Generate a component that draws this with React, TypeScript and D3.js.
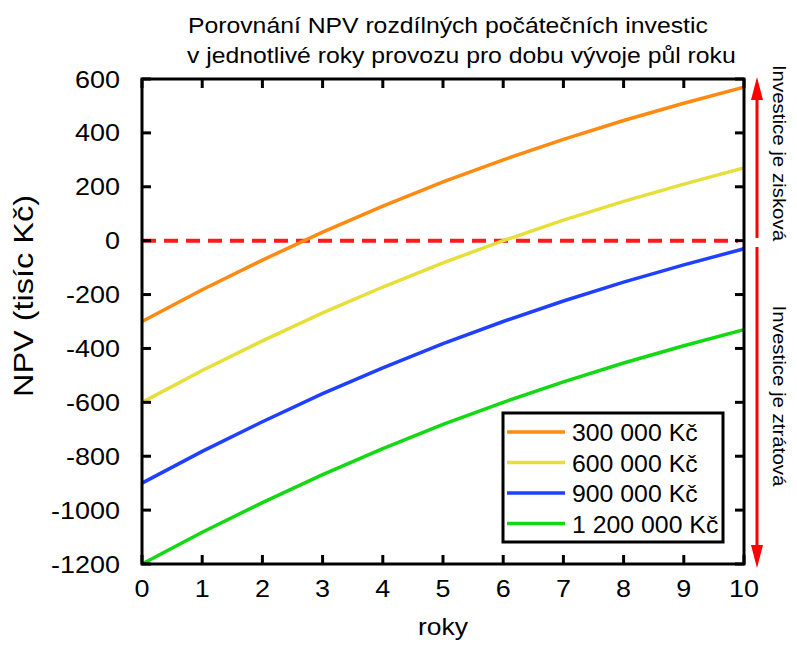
import React from "react";
import * as d3 from "d3";

// years of operation
const years = [0, 1, 2, 3, 4, 5, 6, 7, 8, 9, 10];

// NPV in thousands CZK for each initial investment
const npv300 = [-300, -182, -72, 32, 128, 218, 300, 376, 446, 510, 570];
const npv600 = [-600, -482, -372, -268, -172, -82, 0, 76, 146, 210, 270];
const npv900 = [-900, -782, -672, -568, -472, -382, -300, -224, -154, -90, -30];
const npv1200 = [-1200, -1082, -972, -868, -772, -682, -600, -524, -454, -390, -330];

const seriesNames = ["300 000 Kč", "600 000 Kč", "900 000 Kč", "1 200 000 Kč"];
const seriesColors = ["#ff8a12", "#e6df3a", "#2040ff", "#12d912"];

const yTicks = [600, 400, 200, 0, -200, -400, -600, -800, -1000, -1200];

const W = 797;
const H = 645;
const margin = { top: 79, right: 53, bottom: 81, left: 142 };

// text a bit wider than Liberation Sans, like in the original picture
const T = ({ x, y, size, sx = 1.1, rot = 0, anchor = "start", children }: any) => (
  <g transform={`translate(${x},${y}) rotate(${rot}) scale(${sx},1)`}>
    <text x={0} y={0} fontSize={size} textAnchor={anchor}>
      {children}
    </text>
  </g>
);

const App = () => {
  const x = d3.scaleLinear().domain([0, 10]).range([margin.left, W - margin.right]);
  const y = d3.scaleLinear().domain([-1200, 600]).range([H - margin.bottom, margin.top]);

  const line = d3
    .line<number>()
    .x((d, i) => x(years[i]))
    .y((d) => y(d));

  const allSeries = [npv300, npv600, npv900, npv1200];
  const font = "'Liberation Sans', Arial, sans-serif";
  const tick = 9;
  const x0 = x(0), x1 = x(10), yTop = y(600), yBot = y(-1200);
  const arrowX = 757;

  return (
    <svg width={W} height={H} style={{ position: "absolute", left: 0, top: 0 }} fontFamily={font}>
      <rect width={W} height={H} fill="#fff" />
      <T x={188} y={33} size={22.5}>Porovnání NPV rozdílných počátečních investic</T>
      <T x={187} y={63} size={22.5}>v jednotlivé roky provozu pro dobu vývoje půl roku</T>

      {/* zero line */}
      <line x1={x0} x2={x1 - 6} y1={y(0)} y2={y(0)} stroke="#ff1a1a" strokeWidth={4} strokeDasharray="14,8" />

      {allSeries.map((s, i) => (
        <path key={i} d={line(s) || ""} fill="none" stroke={seriesColors[i]} strokeWidth={3.5} />
      ))}

      {/* ticks */}
      {years.map((t) => (
        <g key={"x" + t}>
          <line x1={x(t)} x2={x(t)} y1={yBot} y2={yBot - tick} stroke="#000" strokeWidth={3} />
          <line x1={x(t)} x2={x(t)} y1={yTop} y2={yTop + tick} stroke="#000" strokeWidth={3} />
          <T x={x(t)} y={yBot + 33} size={24.5} anchor="middle">{t}</T>
        </g>
      ))}
      {yTicks.map((t) => (
        <g key={"y" + t}>
          <line x1={x0} x2={x0 + tick} y1={y(t)} y2={y(t)} stroke="#000" strokeWidth={3} />
          <line x1={x1} x2={x1 - tick} y1={y(t)} y2={y(t)} stroke="#000" strokeWidth={3} />
          <T x={120} y={y(t) + 8.5} size={24.5} anchor="end">{t}</T>
        </g>
      ))}

      <rect x={x0} y={yTop} width={x1 - x0} height={yBot - yTop} fill="none" stroke="#000" strokeWidth={3} />

      {/* legend */}
      <rect x={503} y={413} width={220} height={129} fill="#fff" stroke="#000" strokeWidth={3} />
      {seriesNames.map((n, i) => (
        <g key={n}>
          <line x1={507} x2={565} y1={432 + i * 30.5} y2={432 + i * 30.5} stroke={seriesColors[i]} strokeWidth={3.5} />
          <T x={572} y={441 + i * 30.5} size={23} sx={1.08}>{n}</T>
        </g>
      ))}

      {/* axis titles */}
      <T x={443} y={635} size={23} sx={1.15} anchor="middle">roky</T>
      <T x={33} y={296} size={28} sx={1.16} rot={-90} anchor="middle">NPV (tisíc Kč)</T>

      {/* arrows */}
      <line x1={arrowX} x2={arrowX} y1={98} y2={238} stroke="#ff0000" strokeWidth={3} />
      <path d={`M${arrowX},77 L${arrowX - 6},100 L${arrowX + 6},100 Z`} fill="#ff0000" />
      <line x1={arrowX} x2={arrowX} y1={247} y2={548} stroke="#ff0000" strokeWidth={3} />
      <path d={`M${arrowX},568 L${arrowX - 6},545 L${arrowX + 6},545 Z`} fill="#ff0000" />
      <T x={773} y={153} size={18.6} rot={90} anchor="middle">Investice je zisková</T>
      <T x={773} y={396} size={18.6} rot={90} anchor="middle">Investice je ztrátová</T>
    </svg>
  );
};

export default App;
